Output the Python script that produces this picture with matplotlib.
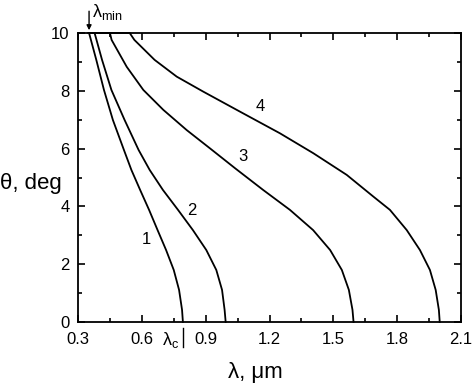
import numpy as np
import matplotlib.pyplot as plt
from matplotlib.ticker import MultipleLocator

plt.rcParams['font.family'] = ['Liberation Sans', 'DejaVu Sans']

# curve data: wavelength (um) vs angle (deg)
lam1 = [0.35, 0.352, 0.386, 0.422, 0.464, 0.516, 0.551, 0.592, 0.634, 0.674, 0.714, 0.750, 0.775, 0.789, 0.793]
th1 = [10, 10, 9.07, 8.03, 6.99, 5.95, 5.26, 4.57, 3.88, 3.18, 2.49, 1.8, 1.11, 0.42, 0]

lam2 = [0.35, 0.378, 0.413, 0.457, 0.519, 0.585, 0.637, 0.699, 0.77, 0.84, 0.903, 0.95, 0.977, 0.989, 0.994]
th2 = [10, 10, 9.07, 8.03, 6.99, 5.95, 5.26, 4.57, 3.88, 3.18, 2.49, 1.8, 1.11, 0.42, 0]

lam3 = [0.35, 0.45, 0.458, 0.529, 0.607, 0.701, 0.811, 0.92, 1.04, 1.17, 1.296, 1.405, 1.485, 1.54, 1.573, 1.59, 1.595]
th3 = [10, 10, 9.76, 8.83, 8.03, 7.34, 6.64, 6.01, 5.31, 4.57, 3.88, 3.18, 2.49, 1.8, 1.11, 0.42, 0]

lam4 = [0.35, 0.543, 0.565, 0.66, 0.764, 0.889, 1.061, 1.249, 1.406, 1.563, 1.688, 1.766, 1.845, 1.907, 1.954, 1.981, 1.996, 2.0]
th4 = [10, 10, 9.76, 9.07, 8.49, 7.97, 7.28, 6.53, 5.84, 5.09, 4.34, 3.88, 3.18, 2.49, 1.8, 1.11, 0.42, 0]

curve_labels = ['1', '2', '3', '4']
label_lam = [0.62, 0.836, 1.074, 1.155]
label_th = [2.84, 3.85, 5.72, 7.45]

lam_min = 0.352
lam_c = 0.795

fig = plt.figure(figsize=(4.74, 3.84), dpi=100)
ax = fig.add_axes([78 / 474, 1 - 322 / 384, 383 / 474, 289 / 384])

for lam, th in [(lam1, th1), (lam2, th2), (lam3, th3), (lam4, th4)]:
    ax.plot(lam, th, color='black', lw=1.3, clip_on=False, solid_joinstyle='round')

for txt, x, y in zip(curve_labels, label_lam, label_th):
    ax.text(x, y, txt, fontsize=12, ha='center', va='center')

ax.set_xlim(0.3, 2.1)
ax.set_ylim(0, 10)
ax.xaxis.set_minor_locator(MultipleLocator(0.15))
ax.yaxis.set_major_locator(MultipleLocator(2))
ax.yaxis.set_minor_locator(MultipleLocator(1))
ax.set_xticks([0.3, 0.6, 0.9, 1.2, 1.5, 1.8, 2.1])
ax.set_xticklabels(['0.3', '0.6', '0.9', '1.2', '1.5', '1.8', '2.1'])
ax.tick_params(which='both', direction='in', top=True, right=True, labelsize=12, width=1.2)
ax.tick_params(which='major', length=5)
ax.tick_params(which='minor', length=3)
ax.tick_params(axis='x', which='major', pad=7)
ax.tick_params(axis='y', which='major', pad=6)
for s in ax.spines.values():
    s.set_linewidth(1.3)

# axis labels
fig.text(31 / 474, 1 - 183 / 384, 'θ, deg', fontsize=16, ha='center', va='center')
ax.set_xlabel('λ, μm', fontsize=16)
ax.xaxis.set_label_coords((255 - 78) / 383, -0.14)

# lambda_min arrow
ax.annotate('', xy=(lam_min, 10), xytext=(lam_min, 10.85),
            arrowprops=dict(arrowstyle='-|>', color='black', lw=1, mutation_scale=7),
            annotation_clip=False)
ax.text(lam_min + 0.015, 10.72, r'λ$_{\mathregular{min}}$', fontsize=13,
        ha='left', va='center', clip_on=False)

# lambda_c marker
ax.plot([lam_c, lam_c], [-0.2, -0.85], color='black', lw=1, clip_on=False)
ax.text(lam_c - 0.02, -0.62, r'λ$_{\mathregular{c}}$', fontsize=13,
        ha='right', va='center', clip_on=False)

fig.savefig('out.png', dpi=100)
